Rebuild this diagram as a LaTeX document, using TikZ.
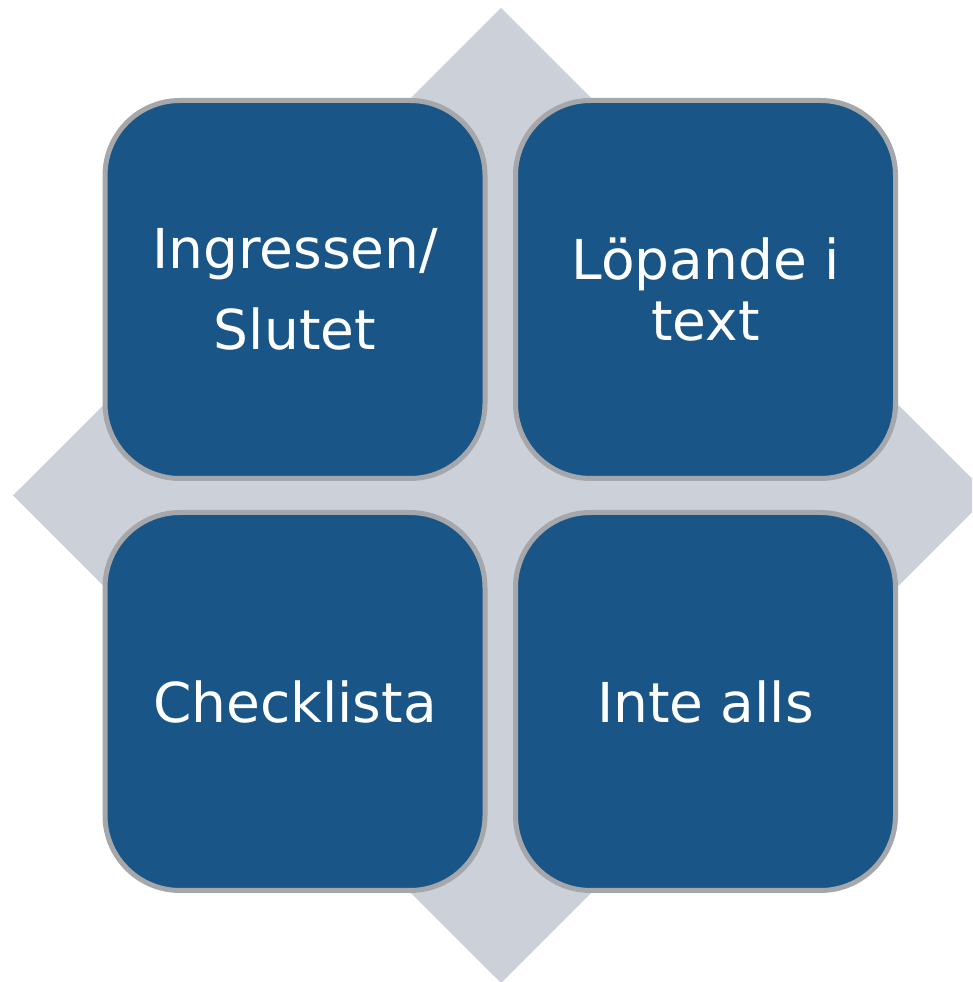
\documentclass[tikz,border=0pt]{standalone}
\usepackage{fontspec}
\setmainfont{DejaVu Sans}
\definecolor{boxfill}{RGB}{25,86,135}
\definecolor{boxline}{RGB}{166,167,171}
\definecolor{diamondfill}{RGB}{204,209,217}
\tikzset{
  quadbox/.style={draw=boxline, fill=boxfill, line width=5pt, rounded corners=75pt,
    minimum width=380pt, minimum height=378pt, inner sep=0pt, text=white,
    align=center, font=\fontsize{55}{66}\selectfont},
}
\begin{document}
\begin{tikzpicture}[x=1pt,y=1pt]
\useasboundingbox (0,0) rectangle (972,982);
\clip (0,0) rectangle (972,982);
\fill[diamondfill] (13,486.5) -- (501,974) -- (989,486.5) -- (501,-1) -- cycle;
\node[quadbox, font=\fontsize{55}{81}\selectfont] (tl) at (295,692.5) {Ingressen/\\Slutet};
\node[quadbox, font=\fontsize{55}{61}\selectfont] (tr) at (705.5,692.5) {Löpande i\\text};
\node[quadbox] (bl) at (295,280.5) {Checklista};
\node[quadbox] (br) at (705.5,280.5) {Inte alls};
\end{tikzpicture}
\end{document}
